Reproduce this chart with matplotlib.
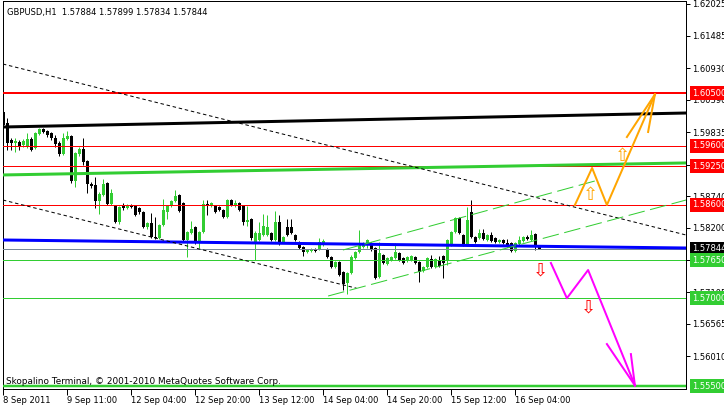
import numpy as np
import matplotlib
matplotlib.use("Agg")
import matplotlib.pyplot as plt
from matplotlib.transforms import blended_transform_factory

plt.rcParams['font.family'] = ['DejaVu Sans']
plt.rcParams['lines.scale_dashes'] = False

# GBPUSD H1 candles, one per hour, oldest first
opens = [1.60180, 1.59992, 1.59702, 1.59651, 1.59668, 1.59617, 1.59583, 1.59719, 1.59565, 1.59805,
         1.59890, 1.59856, 1.59822, 1.59736, 1.59651, 1.59463, 1.59719, 1.59770, 1.59002, 1.59463,
         1.59548, 1.59344, 1.58951, 1.58934, 1.58660, 1.58763, 1.58968, 1.58609, 1.58575, 1.58301,
         1.58575, 1.58541, 1.58592, 1.58575, 1.58541, 1.58472, 1.58215, 1.58284, 1.58044, 1.58027,
         1.58250, 1.58472, 1.58575, 1.58660, 1.58763, 1.58626, 1.57994, 1.58113, 1.58215, 1.57960,
         1.58130, 1.58609, 1.58575, 1.58575, 1.58558, 1.58506, 1.58387, 1.58677, 1.58575, 1.58626,
         1.58575, 1.58301, 1.58352, 1.57960, 1.57994, 1.58079, 1.58079, 1.58113, 1.57994, 1.58301,
         1.57960, 1.58215, 1.58215, 1.58079, 1.57960, 1.57874, 1.57789, 1.57806, 1.57840, 1.57840,
         1.57908, 1.57840, 1.57703, 1.57532, 1.57618, 1.57447, 1.57259, 1.57430, 1.57686, 1.57789,
         1.57874, 1.57908, 1.57943, 1.57857, 1.57361, 1.57737, 1.57584, 1.57652, 1.57686, 1.57772,
         1.57686, 1.57635, 1.57652, 1.57703, 1.57618, 1.57464, 1.57532, 1.57669, 1.57532, 1.57652,
         1.57720, 1.57652, 1.57908, 1.58130, 1.58369, 1.58079, 1.57908, 1.58472, 1.58044, 1.58027,
         1.58113, 1.57994, 1.58079, 1.58027, 1.57960, 1.57994, 1.57943, 1.57943, 1.57806, 1.57926,
         1.57977, 1.58044, 1.57994, 1.58096, 1.57884]
highs = [1.60334, 1.60077, 1.59736, 1.59736, 1.59702, 1.59719, 1.59822, 1.59753, 1.59839, 1.59907,
         1.59907, 1.59873, 1.59839, 1.59788, 1.59685, 1.59822, 1.59856, 1.59788, 1.59497, 1.59583,
         1.59736, 1.59361, 1.58985, 1.59070, 1.58814, 1.59036, 1.58985, 1.58865, 1.58592, 1.58575,
         1.58626, 1.58609, 1.58609, 1.58592, 1.58558, 1.58489, 1.58301, 1.58455, 1.58387, 1.58267,
         1.58694, 1.58592, 1.58677, 1.58848, 1.58780, 1.58643, 1.58147, 1.58318, 1.58232, 1.58147,
         1.58677, 1.58677, 1.58643, 1.58592, 1.58575, 1.58523, 1.58694, 1.58694, 1.58677, 1.58643,
         1.58592, 1.58575, 1.58369, 1.58147, 1.58301, 1.58438, 1.58421, 1.58130, 1.58489, 1.58421,
         1.58062, 1.58352, 1.58352, 1.58096, 1.57977, 1.57891, 1.57840, 1.57857, 1.57857, 1.58027,
         1.58010, 1.57857, 1.57720, 1.57635, 1.57635, 1.57464, 1.57447, 1.57737, 1.57806, 1.58164,
         1.57960, 1.58010, 1.57960, 1.57874, 1.57960, 1.57754, 1.57703, 1.57720, 1.57943, 1.57789,
         1.57703, 1.57720, 1.57737, 1.57720, 1.57635, 1.57549, 1.57703, 1.57737, 1.57686, 1.57720,
         1.57737, 1.58010, 1.58147, 1.58387, 1.58387, 1.58096, 1.58558, 1.58677, 1.58062, 1.58181,
         1.58181, 1.58096, 1.58130, 1.58044, 1.58010, 1.58010, 1.58010, 1.57960, 1.57960, 1.58062,
         1.58062, 1.58079, 1.58164, 1.58113, 1.57899]
lows = [1.59906, 1.59531, 1.59531, 1.59497, 1.59531, 1.59583, 1.59565, 1.59514, 1.59548, 1.59788,
        1.59822, 1.59753, 1.59702, 1.59583, 1.59429, 1.59446, 1.59702, 1.58968, 1.58899, 1.59429,
        1.59275, 1.58797, 1.58882, 1.58540, 1.58438, 1.58746, 1.58592, 1.58592, 1.58284, 1.58267,
        1.58506, 1.58523, 1.58541, 1.58404, 1.58438, 1.58198, 1.58181, 1.58027, 1.58010, 1.58010,
        1.58233, 1.58352, 1.58558, 1.58643, 1.58472, 1.57977, 1.57704, 1.58096, 1.57926, 1.57858,
        1.58113, 1.58421, 1.58558, 1.58455, 1.58489, 1.58369, 1.58369, 1.58575, 1.58558, 1.58489,
        1.58250, 1.58233, 1.57994, 1.57652, 1.57977, 1.58062, 1.58062, 1.57977, 1.57977, 1.57908,
        1.57943, 1.58062, 1.58096, 1.57977, 1.57840, 1.57720, 1.57772, 1.57789, 1.57789, 1.57823,
        1.57891, 1.57686, 1.57515, 1.57515, 1.57378, 1.57139, 1.57071, 1.57413, 1.57669, 1.57772,
        1.57857, 1.57857, 1.57806, 1.57327, 1.57344, 1.57584, 1.57567, 1.57635, 1.57669, 1.57635,
        1.57584, 1.57618, 1.57635, 1.57584, 1.57276, 1.57447, 1.57515, 1.57515, 1.57515, 1.57532,
        1.57344, 1.57567, 1.57891, 1.58113, 1.58096, 1.57891, 1.57891, 1.58027, 1.57943, 1.58010,
        1.57994, 1.57977, 1.57960, 1.57943, 1.57943, 1.57926, 1.57874, 1.57789, 1.57789, 1.57908,
        1.57960, 1.57994, 1.57977, 1.57823, 1.57834]
closes = [1.59958, 1.59651, 1.59651, 1.59685, 1.59583, 1.59685, 1.59719, 1.59531, 1.59822, 1.59890,
          1.59839, 1.59788, 1.59736, 1.59634, 1.59463, 1.59736, 1.59770, 1.59002, 1.59480, 1.59548,
          1.59327, 1.58951, 1.58917, 1.58660, 1.58780, 1.58951, 1.58609, 1.58797, 1.58301, 1.58558,
          1.58541, 1.58592, 1.58558, 1.58421, 1.58472, 1.58215, 1.58284, 1.58044, 1.58027, 1.58250,
          1.58506, 1.58575, 1.58660, 1.58746, 1.58489, 1.57994, 1.58130, 1.58181, 1.57943, 1.58130,
          1.58609, 1.58575, 1.58626, 1.58472, 1.58506, 1.58387, 1.58677, 1.58592, 1.58626, 1.58506,
          1.58301, 1.58335, 1.58027, 1.58113, 1.58113, 1.58233, 1.58215, 1.57994, 1.58301, 1.57926,
          1.58044, 1.58079, 1.58113, 1.57994, 1.57857, 1.57789, 1.57823, 1.57840, 1.57806, 1.57960,
          1.57977, 1.57703, 1.57532, 1.57618, 1.57395, 1.57242, 1.57430, 1.57703, 1.57789, 1.57908,
          1.57943, 1.57994, 1.57823, 1.57344, 1.57772, 1.57601, 1.57686, 1.57703, 1.57789, 1.57652,
          1.57601, 1.57703, 1.57720, 1.57601, 1.57447, 1.57532, 1.57686, 1.57532, 1.57669, 1.57549,
          1.57601, 1.57994, 1.58130, 1.58369, 1.58113, 1.57908, 1.58335, 1.58044, 1.57960, 1.58113,
          1.58010, 1.58079, 1.57977, 1.57960, 1.57994, 1.57943, 1.57891, 1.57806, 1.57943, 1.57994,
          1.58044, 1.58010, 1.58079, 1.57874, 1.57844]

x_ticks = [0, 16, 32, 48, 64, 80, 96, 112, 128]
x_labels = ['8 Sep 2011', '9 Sep 11:00', '12 Sep 04:00', '12 Sep 20:00', '13 Sep 12:00',
            '14 Sep 04:00', '14 Sep 20:00', '15 Sep 12:00', '16 Sep 04:00']
y_ticks = [1.62025, 1.61485, 1.60930, 1.60390, 1.59835, 1.59280, 1.58740,
           1.58200, 1.57650, 1.57105, 1.56565, 1.56010]

red_levels = [1.6050, 1.5960, 1.5925, 1.5860]
green_levels = [1.5765, 1.5700, 1.5550]
bid = 1.57844

# trend lines (bar index, price)
black_trend = [(-0.1, 1.59924), (170.7, 1.60163)]
green_trend = [(-0.1, 1.59105), (170.7, 1.59310)]
blue_trend = [(-0.1, 1.57994), (170.7, 1.57857)]
upper_dotted = [(-0.1, 1.61000), (170.7, 1.58079)]
lower_dotted = [(-0.1, 1.58677), (88.3, 1.57170)]
channel_low = [(81.2, 1.57037), (170.7, 1.58677)]
channel_high = [(84.9, 1.57823), (147.9, 1.59002)]

# forecast zigzags
orange_x = [142.9, 147.2, 150.9, 162.9]
orange_y = [1.58592, 1.59224, 1.58592, 1.60480]
orange_head = [(155.9, 1.59753), (161.2, 1.59839)]
pink_x = [136.9, 140.9, 146.2, 157.9]
pink_y = [1.57601, 1.57000, 1.57481, 1.55510]
pink_head = [(150.9, 1.56216), (156.9, 1.56045)]
up_signals = [(146.9, 1.58763), (154.7, 1.59429)]
down_signals = [(134.4, 1.57464), (146.4, 1.56848)]

W, H = 724, 407
fig = plt.figure(figsize=(W / 100, H / 100), dpi=100)
ax = fig.add_axes([3 / W, (H - 389) / H, 683 / W, 388 / H])

x0, x1 = -0.075, 170.675
ylo = 1.62025 - (389 - 4) * 0.00017081
yhi = 1.62025 + 3 * 0.00017081
ax.set_xlim(x0, x1)
ax.set_ylim(ylo, yhi)

lime = '#32cd32'
px = 0.72  # one pixel in points
fs = 6.0

# candles
idx = np.arange(len(opens))
o = np.array(opens); c = np.array(closes)
hi = np.array(highs); lo = np.array(lows)
up = c > o
cols = np.where(up, lime, 'black')
ax.vlines(idx, lo, hi, colors=cols, linewidth=px, zorder=2)
body = np.maximum(np.abs(c - o), 0.00017)
ax.bar(idx, body, bottom=np.minimum(o, c), width=0.75, color=cols, linewidth=0, zorder=3)

# horizontal levels
for i, lv in enumerate(red_levels):
    ax.axhline(lv, color='red', linewidth=2 * px if i == 0 else px, zorder=4)
for i, lv in enumerate(green_levels):
    ax.axhline(lv, color=lime, linewidth=2.5 * px if i == 2 else px, zorder=4)
ax.axhline(bid, color='#778899', linewidth=px, zorder=4)

def seg(pts, **kw):
    ax.plot([p[0] for p in pts], [p[1] for p in pts], **kw)

seg(black_trend, color='black', linewidth=3 * px, zorder=5)
seg(green_trend, color=lime, linewidth=3 * px, zorder=5)
seg(blue_trend, color='blue', linewidth=3 * px, zorder=5)
seg(upper_dotted, color='black', linewidth=px, ls=(0, (2.5, 2)), zorder=5)
seg(lower_dotted, color='black', linewidth=px, ls=(0, (2.5, 2)), zorder=5)
seg(channel_low, color=lime, linewidth=px, ls=(0, (12, 4)), zorder=5)
seg(channel_high, color=lime, linewidth=px, ls=(0, (12, 4)), zorder=5)

ax.plot(orange_x, orange_y, color='orange', linewidth=2 * px, zorder=6)
for hx, hy in orange_head:
    ax.plot([hx, orange_x[-1]], [hy, orange_y[-1]], color='orange', linewidth=2 * px, zorder=6)
ax.plot(pink_x, pink_y, color='magenta', linewidth=2 * px, zorder=6)
for hx, hy in pink_head:
    ax.plot([hx, pink_x[-1]], [hy, pink_y[-1]], color='magenta', linewidth=2 * px, zorder=6)

for sx, sy in up_signals:
    ax.text(sx, sy, '\u21e7', color='orange', fontsize=13, ha='center', va='center', zorder=7)
for sx, sy in down_signals:
    ax.text(sx, sy, '\u21e9', color='red', fontsize=13, ha='center', va='center', zorder=7)

# axes styling
for sp in ax.spines.values():
    sp.set_linewidth(px)
    sp.set_color('black')
ax.yaxis.tick_right()
ax.set_yticks(y_ticks)
ax.set_yticklabels([f'{v:.5f}' for v in y_ticks])
ax.set_xticks(x_ticks)
ax.set_xticklabels(x_labels)
ax.tick_params(axis='y', length=3, width=px, pad=1.5, labelsize=fs)
ax.tick_params(axis='x', length=4, width=px, pad=1, labelsize=fs)
for t in ax.get_xticklabels():
    t.set_ha('left')

# price tags on the scale
tr = blended_transform_factory(ax.transAxes, ax.transData)
tags = [(lv, 'red') for lv in red_levels] + [(bid, 'black')] + [(lv, lime) for lv in green_levels]
for lv, col in tags:
    ax.text(1 + 6 / 683, lv, f'{lv:.5f}', transform=tr, color='white', fontsize=fs,
            ha='left', va='center', clip_on=False, zorder=10,
            bbox=dict(boxstyle='square,pad=0.3', fc=col, ec='none'))

fig.text(7 / W, 1 - 12 / H, 'GBPUSD,H1  1.57884 1.57899 1.57834 1.57844', fontsize=fs,
         ha='left', va='center')
fig.text(6 / W, 1 - 381 / H, 'Skopalino Terminal, \u00a9 2001-2010 MetaQuotes Software Corp.',
         fontsize=6.4, ha='left', va='center')

fig.savefig('out.png', dpi=100, facecolor='white')
